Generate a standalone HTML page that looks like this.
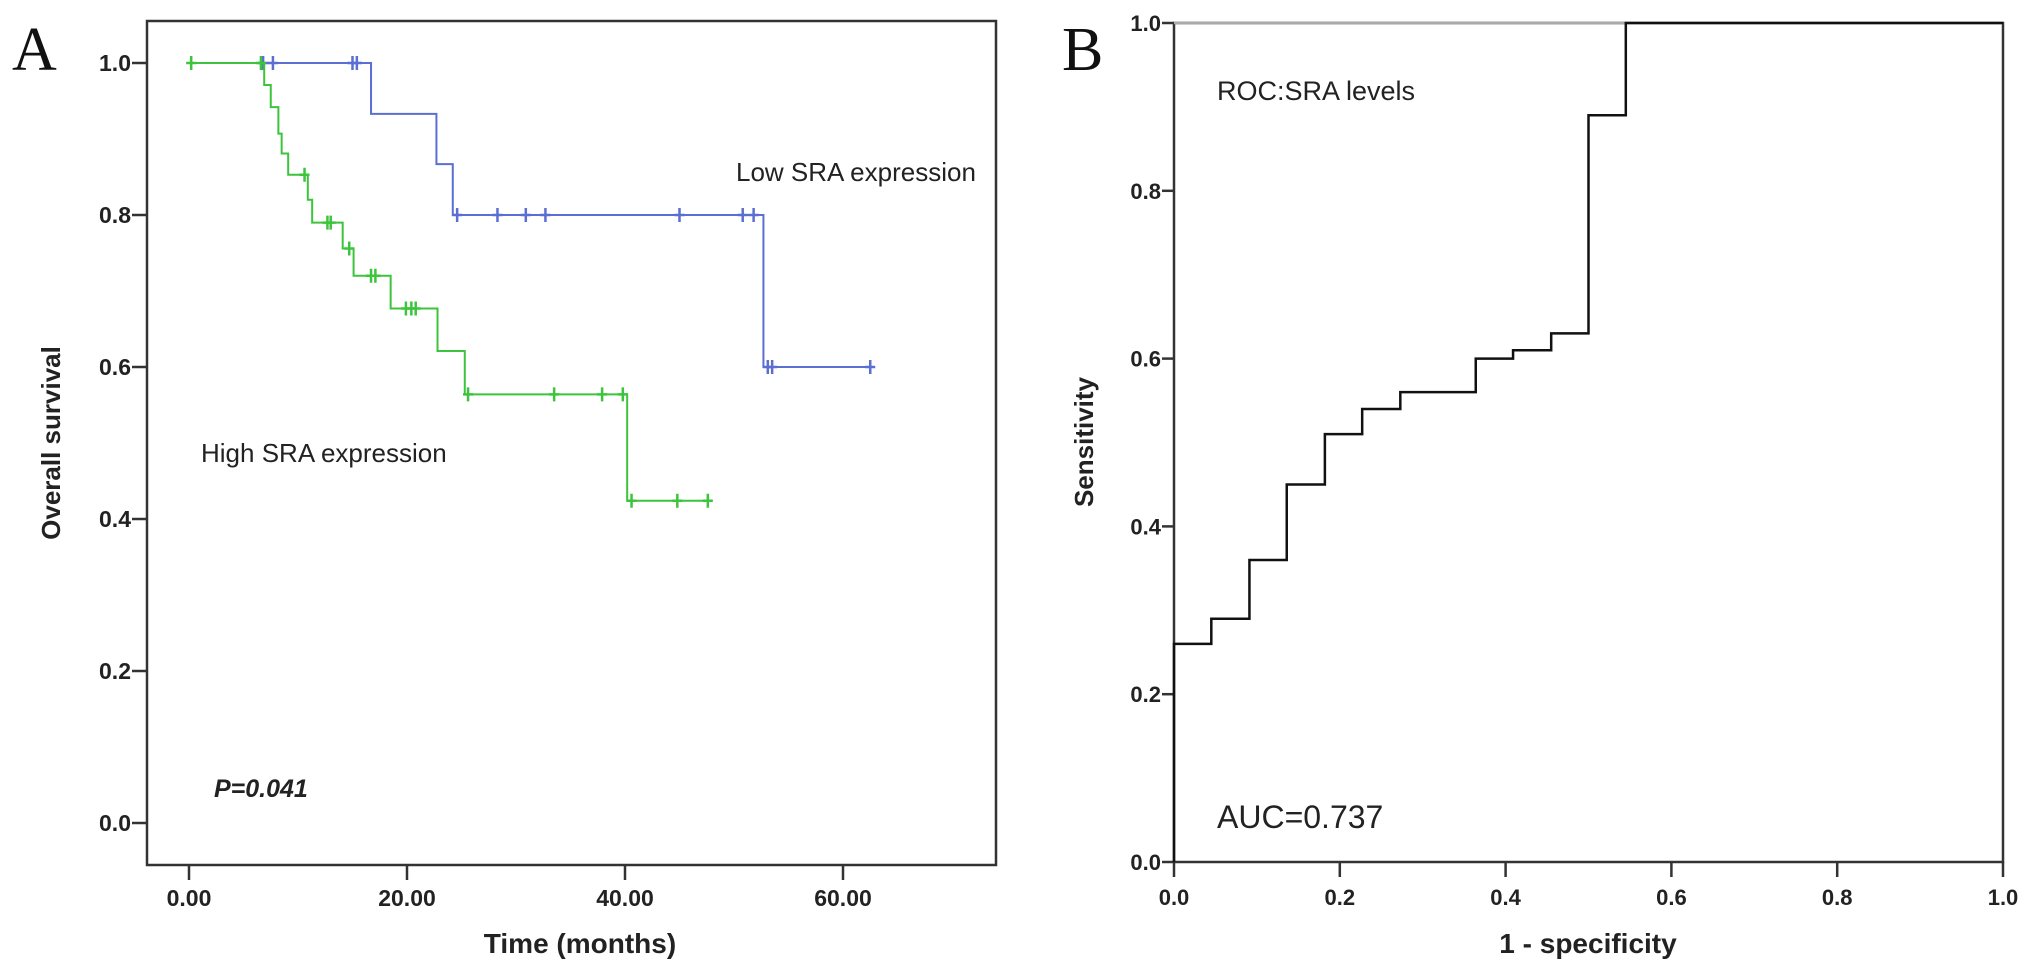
<!DOCTYPE html>
<html><head><meta charset="utf-8">
<style>
html,body{margin:0;padding:0;background:#fff;}
svg{display:block;font-family:"Liberation Sans",Arial,sans-serif;}
</style></head>
<body>
<svg id="fig" width="2031" height="973" viewBox="0 0 2031 973">
  <rect x="0" y="0" width="2031" height="973" fill="#fff"/>
  <g id="panelA">
    <text x="12" y="70" font-family="Liberation Serif,serif" font-size="62" fill="#111">A</text>
    <rect x="147" y="21" width="849" height="844" fill="none" stroke="#333" stroke-width="2.5"/>
    <text transform="translate(60,443) rotate(-90)" text-anchor="middle" font-weight="bold" font-size="26" fill="#222">Overall survival</text>
    <text x="580" y="953" text-anchor="middle" font-weight="bold" font-size="28" fill="#222">Time (months)</text>
    <text x="736" y="181" font-size="26" fill="#222">Low SRA expression</text>
    <text x="201" y="462" font-size="26" fill="#222">High SRA expression</text>
    <text x="214" y="797" font-size="25" font-weight="bold" font-style="italic" fill="#222">P=0.041</text>
  </g>
  <g id="panelB">
    <text x="1062" y="70" font-family="Liberation Serif,serif" font-size="62" fill="#111">B</text>
    <rect x="1174" y="23" width="829" height="839" fill="none" stroke="#333" stroke-width="2.5"/>
    <line x1="1174" y1="23" x2="2003" y2="23" stroke="#aaa" stroke-width="2.5"/>
    <text transform="translate(1093,442) rotate(-90)" text-anchor="middle" font-weight="bold" font-size="26" fill="#222">Sensitivity</text>
    <text x="1588" y="953" text-anchor="middle" font-weight="bold" font-size="28" fill="#222">1 - specificity</text>
    <text x="1217" y="100" font-size="27" fill="#222">ROC:SRA levels</text>
    <text x="1217" y="828" font-size="32" fill="#222">AUC=0.737</text>
  </g>
</svg>
<script>
// ---- Panel A data (Kaplan-Meier) ----
const kmXTicks = [0, 20, 40, 60];
const kmXTickLabels = ["0.00", "20.00", "40.00", "60.00"];
const kmYTicks = [0, 0.2, 0.4, 0.6, 0.8, 1.0];
const kmYTickLabels = ["0.0", "0.2", "0.4", "0.6", "0.8", "1.0"];
const lowTimes = [0, 16.7, 22.7, 24.2, 52.7, 62.5];
const lowSurv = [1.0, 0.933, 0.867, 0.8, 0.6, 0.6];
const lowCensorTimes = [6.8, 7.7, 15.0, 15.4, 24.6, 28.3, 30.9, 32.7, 45.0, 50.8, 51.8, 53.1, 53.5, 62.5];
const highTimes = [0, 6.9, 7.5, 8.2, 8.5, 9.1, 10.9, 11.3, 14.1, 15.1, 18.5, 22.8, 25.3, 40.2, 47.6];
const highSurv = [1.0, 0.971, 0.942, 0.907, 0.881, 0.853, 0.82, 0.79, 0.756, 0.72, 0.677, 0.621, 0.564, 0.424, 0.424];
const highCensorTimes = [0.2, 6.6, 10.6, 12.7, 13.0, 14.7, 16.7, 17.1, 19.9, 20.4, 20.8, 25.6, 33.5, 37.9, 39.8, 40.6, 44.8, 47.6];
// ---- Panel B data (ROC) ----
const rocFpr = [0, 0, 0.045, 0.091, 0.136, 0.182, 0.227, 0.273, 0.364, 0.409, 0.455, 0.5, 0.545, 1.0];
const rocTpr = [0, 0.26, 0.29, 0.36, 0.45, 0.51, 0.54, 0.56, 0.60, 0.61, 0.63, 0.89, 1.0, 1.0];
const rocTicks = [0, 0.2, 0.4, 0.6, 0.8, 1.0];
const rocTickLabels = ["0.0", "0.2", "0.4", "0.6", "0.8", "1.0"];

const NS = "http://www.w3.org/2000/svg";
const A = document.getElementById("panelA");
const B = document.getElementById("panelB");
const ax = t => 189 + t * 10.9;
const ay = s => 823 - s * 760;
const bx = v => 1174 + v * 829;
const by = v => 862 - v * 839;

function mk(tag, attrs, parent) {
  const e = document.createElementNS(NS, tag);
  for (const k in attrs) e.setAttribute(k, attrs[k]);
  parent.appendChild(e);
  return e;
}
function survAt(times, surv, t) {
  let s = surv[0];
  for (let i = 0; i < times.length; i++) if (times[i] <= t) s = surv[i];
  return s;
}
function stepPath(times, surv, fx, fy) {
  let d = "M" + fx(times[0]) + "," + fy(surv[0]);
  for (let i = 1; i < times.length; i++) {
    d += " H" + fx(times[i]) + " V" + fy(surv[i]);
  }
  return d;
}

// Panel A ticks
kmYTicks.forEach((v, i) => {
  const l = mk("line", {x1: 132, x2: 147, y1: ay(v), y2: ay(v), stroke: "#333", "stroke-width": 2.5}, A);
  
  
  const t = mk("text", {x: 131, y: ay(v) + 8, "text-anchor": "end", "font-size": 23, "font-weight": "bold", fill: "#222"}, A);
  t.textContent = kmYTickLabels[i];
  
  
});
kmXTicks.forEach((v, i) => {
  const l = mk("line", {x1: ax(v), x2: ax(v), y1: 865, y2: 880, stroke: "#333", "stroke-width": 2.5}, A);
  
  
  const t = mk("text", {x: ax(v), y: 906, "text-anchor": "middle", "font-size": 23, "font-weight": "bold", fill: "#222"}, A);
  t.textContent = kmXTickLabels[i];
  
  
});

function drawKM(times, surv, censors, color, name) {
  const p = mk("path", {d: stepPath(times, surv, ax, ay), fill: "none", stroke: color, "stroke-width": 2}, A);
  
  
  censors.forEach(t => {
    const x = ax(t), y = ay(survAt(times, surv, t));
    const c = mk("path", {d: "M" + x + "," + (y - 7) + " V" + (y + 7) + " M" + (x - 5) + "," + y + " H" + (x + 5), stroke: color, "stroke-width": 2.5, fill: "none"}, A);
    
    
  });
}
drawKM(lowTimes, lowSurv, lowCensorTimes, "#5b6fd2", "low-sra");
drawKM(highTimes, highSurv, highCensorTimes, "#3cc43c", "high-sra");

// Panel B ticks
rocTicks.forEach((v, i) => {
  const l = mk("line", {x1: 1162, x2: 1174, y1: by(v), y2: by(v), stroke: "#333", "stroke-width": 2.5}, B);
  
  
  const t = mk("text", {x: 1161, y: by(v) + 8, "text-anchor": "end", "font-size": 22, "font-weight": "bold", fill: "#222"}, B);
  t.textContent = rocTickLabels[i];
  
  
  const l2 = mk("line", {x1: bx(v), x2: bx(v), y1: 862, y2: 877, stroke: "#333", "stroke-width": 2.5}, B);
  
  
  const t2 = mk("text", {x: bx(v), y: 905, "text-anchor": "middle", "font-size": 22, "font-weight": "bold", fill: "#222"}, B);
  t2.textContent = rocTickLabels[i];
  
  
});
let d = "M" + bx(rocFpr[0]) + "," + by(rocTpr[0]);
for (let i = 1; i < rocFpr.length; i++) d += " H" + bx(rocFpr[i]) + " V" + by(rocTpr[i]);
const roc = mk("path", {d: d, fill: "none", stroke: "#111", "stroke-width": 2.5}, B);


</script>
</body></html>
